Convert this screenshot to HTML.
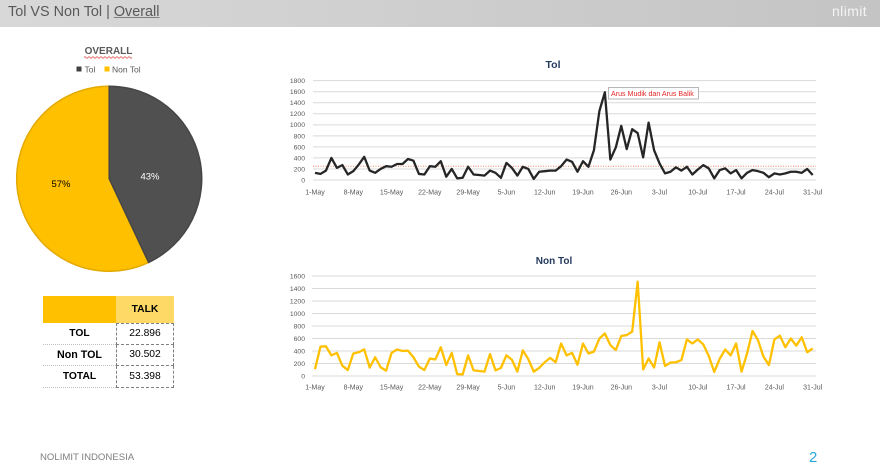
<!DOCTYPE html>
<html><head><meta charset="utf-8">
<style>
html,body{margin:0;padding:0;background:#fff;}
body{width:880px;height:471px;position:relative;overflow:hidden;font-family:"Liberation Sans",Arial,sans-serif;}
.hdr{position:absolute;left:0;top:0;width:880px;height:27px;background:linear-gradient(to right,#d8d8d8,#c4c4c4);}
.ttl{position:absolute;left:8px;top:4px;font-size:14.4px;color:#595959;white-space:nowrap;}
.ul{text-decoration:underline;text-decoration-color:#7f7f7f;}
.logo{position:absolute;left:832px;top:3px;font-size:14px;color:#f4f4f4;letter-spacing:0.4px;}
.cell{position:absolute;box-sizing:border-box;display:flex;align-items:center;justify-content:center;font-size:10.3px;color:#000;}
.foot{position:absolute;left:40px;top:452px;font-size:9.6px;color:#7f7f7f;}
.pg{position:absolute;left:809px;top:449px;font-size:15px;color:#29a8e0;}
</style></head><body>
<div class="hdr"></div>
<div class="ttl">Tol VS Non Tol | <span class="ul">Overall</span></div>
<div class="logo">nlimit</div>

<svg width="880" height="471" style="position:absolute;left:0;top:0" xmlns="http://www.w3.org/2000/svg" font-family="Liberation Sans, Arial, sans-serif">
  <!-- Overall title & legend -->
  <text x="108.5" y="54" text-anchor="middle" font-size="10" font-weight="bold" fill="#595959">OVERALL</text>
  <path d="M84,57.5 q1,-1.5 2,0 t2,0 t2,0 t2,0 t2,0 t2,0 t2,0 t2,0 t2,0 t2,0 t2,0 t2,0 t2,0 t2,0 t2,0 t2,0 t2,0 t2,0 t2,0 t2,0 t2,0 t2,0 t2,0 t2,0" fill="none" stroke="#e04040" stroke-width="0.7"/>
  <rect x="76.5" y="66.5" width="5" height="5" fill="#404040"/>
  <text x="84.5" y="72.5" font-size="8.5" fill="#595959">Tol</text>
  <rect x="104.5" y="66.5" width="5" height="5" fill="#ffc000"/>
  <text x="112" y="72.5" font-size="8.5" fill="#595959">Non Tol</text>

  <!-- Pie -->
  <path d="M109.2,178.7 L148.6,262.4 A92.5,92.5 0 1 1 109.2,86.2 Z" fill="#ffc000" stroke="#e3a900" stroke-width="1.5"/>
  <path d="M109.2,178.7 L109.2,86.2 A92.5,92.5 0 0 1 148.6,262.4 Z" fill="#505050" stroke="#464646" stroke-width="1.5"/>
  <text x="150" y="179.5" text-anchor="middle" font-size="9.5" fill="#ffffff">43%</text>
  <text x="61" y="187" text-anchor="middle" font-size="9.5" fill="#000">57%</text>

  <!-- TOL chart -->
  <text x="553" y="68" text-anchor="middle" font-size="10.5" font-weight="bold" fill="#243a5e">Tol</text>
  <g stroke="#d9d9d9" stroke-width="1">
    <line x1="313" x2="816" y1="180" y2="180"/>
    <line x1="313" x2="816" y1="168.96" y2="168.96"/>
    <line x1="313" x2="816" y1="157.93" y2="157.93"/>
    <line x1="313" x2="816" y1="146.89" y2="146.89"/>
    <line x1="313" x2="816" y1="135.85" y2="135.85"/>
    <line x1="313" x2="816" y1="124.82" y2="124.82"/>
    <line x1="313" x2="816" y1="113.78" y2="113.78"/>
    <line x1="313" x2="816" y1="102.74" y2="102.74"/>
    <line x1="313" x2="816" y1="91.7" y2="91.7"/>
    <line x1="313" x2="816" y1="80.67" y2="80.67"/>
  </g>
  <g font-size="6.8" fill="#595959" text-anchor="end">
    <text x="305" y="182.4">0</text>
    <text x="305" y="171.4">200</text>
    <text x="305" y="160.3">400</text>
    <text x="305" y="149.3">600</text>
    <text x="305" y="138.3">800</text>
    <text x="305" y="127.2">1000</text>
    <text x="305" y="116.2">1200</text>
    <text x="305" y="105.1">1400</text>
    <text x="305" y="94.1">1600</text>
    <text x="305" y="83.1">1800</text>
  </g>
  <line x1="313" x2="816" y1="166.2" y2="166.2" stroke="#f08a5d" stroke-width="1" stroke-dasharray="1,1.5"/>
  <g font-size="7" fill="#595959" text-anchor="middle">
    <text x="315" y="194.5">1-May</text>
    <text x="353.3" y="194.5">8-May</text>
    <text x="391.6" y="194.5">15-May</text>
    <text x="429.8" y="194.5">22-May</text>
    <text x="468.1" y="194.5">29-May</text>
    <text x="506.4" y="194.5">5-Jun</text>
    <text x="544.7" y="194.5">12-Jun</text>
    <text x="583" y="194.5">19-Jun</text>
    <text x="621.3" y="194.5">26-Jun</text>
    <text x="659.5" y="194.5">3-Jul</text>
    <text x="697.8" y="194.5">10-Jul</text>
    <text x="736.1" y="194.5">17-Jul</text>
    <text x="774.4" y="194.5">24-Jul</text>
    <text x="812.7" y="194.5">31-Jul</text>
  </g>
  <g transform="translate(315,180) scale(5.469,-0.05518)">
    <polyline vector-effect="non-scaling-stroke" fill="none" stroke="#262626" stroke-width="2.3" stroke-linejoin="round" points="0,130 1,110 2,170 3,400 4,220 5,270 6,100 7,160 8,280 9,420 10,170 11,130 12,200 13,250 14,240 15,290 16,290 17,380 18,350 19,110 20,100 21,250 22,240 23,340 24,60 25,200 26,30 27,40 28,240 29,100 30,90 31,80 32,170 33,130 34,40 35,310 36,220 37,80 38,240 39,200 40,20 41,150 42,160 43,170 44,170 45,250 46,370 47,330 48,150 49,340 50,240 51,540 52,1250 53,1590 54,370 55,590 56,980 57,560 58,920 59,850 60,410 61,1040 62,540 63,300 64,120 65,150 66,230 67,170 68,240 69,100 70,190 71,270 72,210 73,30 74,180 75,210 76,120 77,180 78,30 79,130 80,180 81,160 82,130 83,50 84,120 85,100 86,120 87,150 88,150 89,130 90,200 91,90"/>
  </g>
  <rect x="608.5" y="87.5" width="90" height="11.5" fill="#fff" stroke="#a6a6a6" stroke-width="0.8"/>
  <text x="611" y="96" font-size="7.1" fill="#e32626">Arus Mudik dan Arus Balik</text>

  <!-- NON TOL chart -->
  <text x="554" y="264" text-anchor="middle" font-size="10" font-weight="bold" fill="#243a5e">Non Tol</text>
  <g stroke="#d9d9d9" stroke-width="1">
    <line x1="312" x2="816" y1="376" y2="376"/>
    <line x1="312" x2="816" y1="363.5" y2="363.5"/>
    <line x1="312" x2="816" y1="351" y2="351"/>
    <line x1="312" x2="816" y1="338.5" y2="338.5"/>
    <line x1="312" x2="816" y1="326" y2="326"/>
    <line x1="312" x2="816" y1="313.5" y2="313.5"/>
    <line x1="312" x2="816" y1="301" y2="301"/>
    <line x1="312" x2="816" y1="288.5" y2="288.5"/>
    <line x1="312" x2="816" y1="276" y2="276"/>
  </g>
  <g font-size="6.8" fill="#595959" text-anchor="end">
    <text x="305" y="378.4">0</text>
    <text x="305" y="365.9">200</text>
    <text x="305" y="353.4">400</text>
    <text x="305" y="340.9">600</text>
    <text x="305" y="328.4">800</text>
    <text x="305" y="315.9">1000</text>
    <text x="305" y="303.4">1200</text>
    <text x="305" y="290.9">1400</text>
    <text x="305" y="278.4">1600</text>
  </g>
  <g font-size="7" fill="#595959" text-anchor="middle">
    <text x="315" y="389.5">1-May</text>
    <text x="353.3" y="389.5">8-May</text>
    <text x="391.6" y="389.5">15-May</text>
    <text x="429.8" y="389.5">22-May</text>
    <text x="468.1" y="389.5">29-May</text>
    <text x="506.4" y="389.5">5-Jun</text>
    <text x="544.7" y="389.5">12-Jun</text>
    <text x="583" y="389.5">19-Jun</text>
    <text x="621.3" y="389.5">26-Jun</text>
    <text x="659.5" y="389.5">3-Jul</text>
    <text x="697.8" y="389.5">10-Jul</text>
    <text x="736.1" y="389.5">17-Jul</text>
    <text x="774.4" y="389.5">24-Jul</text>
    <text x="812.7" y="389.5">31-Jul</text>
  </g>
  <g transform="translate(315,376) scale(5.469,-0.0625)">
    <polyline vector-effect="non-scaling-stroke" fill="none" stroke="#ffc000" stroke-width="2.3" stroke-linejoin="round" points="0,110 1,470 2,475 3,330 4,370 5,165 6,95 7,360 8,380 9,425 10,135 11,300 12,140 13,85 14,370 15,425 16,400 17,405 18,300 19,150 20,95 21,280 22,265 23,460 24,175 25,370 26,30 27,25 28,330 29,90 30,80 31,70 32,350 33,90 34,130 35,330 36,260 37,70 38,410 39,270 40,70 41,130 42,220 43,290 44,220 45,520 46,330 47,370 48,180 49,520 50,360 51,390 52,600 53,680 54,495 55,415 56,640 57,655 58,710 59,1510 60,105 61,280 62,135 63,540 64,160 65,215 66,220 67,255 68,585 69,520 70,585 71,505 72,320 73,65 74,275 75,425 76,330 77,520 78,70 79,360 80,720 81,575 82,310 83,175 84,585 85,645 86,460 87,600 88,485 89,620 90,380 91,440"/>
  </g>
</svg>

<!-- Table -->
<div class="cell" style="left:43px;top:296px;width:73px;height:27px;background:#ffc000;"></div>
<div class="cell" style="left:116px;top:296px;width:58px;height:27px;background:#ffd966;font-weight:bold;">TALK</div>
<div class="cell" style="left:43px;top:323px;width:73px;height:21.5px;font-weight:bold;border-bottom:1px dotted #bfbfbf;">TOL</div>
<div class="cell" style="left:43px;top:344.5px;width:73px;height:21.5px;font-weight:bold;font-size:10.7px;border-bottom:1px dotted #bfbfbf;">Non TOL</div>
<div class="cell" style="left:43px;top:366px;width:73px;height:21.5px;font-weight:bold;border-bottom:1px dotted #bfbfbf;">TOTAL</div>
<div class="cell" style="left:116px;top:323px;width:58px;height:21.5px;border:1px dashed #7f7f7f;">22.896</div>
<div class="cell" style="left:116px;top:344.5px;width:58px;height:21.5px;border:1px dashed #7f7f7f;border-top:none;">30.502</div>
<div class="cell" style="left:116px;top:366px;width:58px;height:21.5px;border:1px dashed #7f7f7f;border-top:none;">53.398</div>

<div class="foot">NOLIMIT INDONESIA</div>
<div class="pg">2</div>
</body></html>
